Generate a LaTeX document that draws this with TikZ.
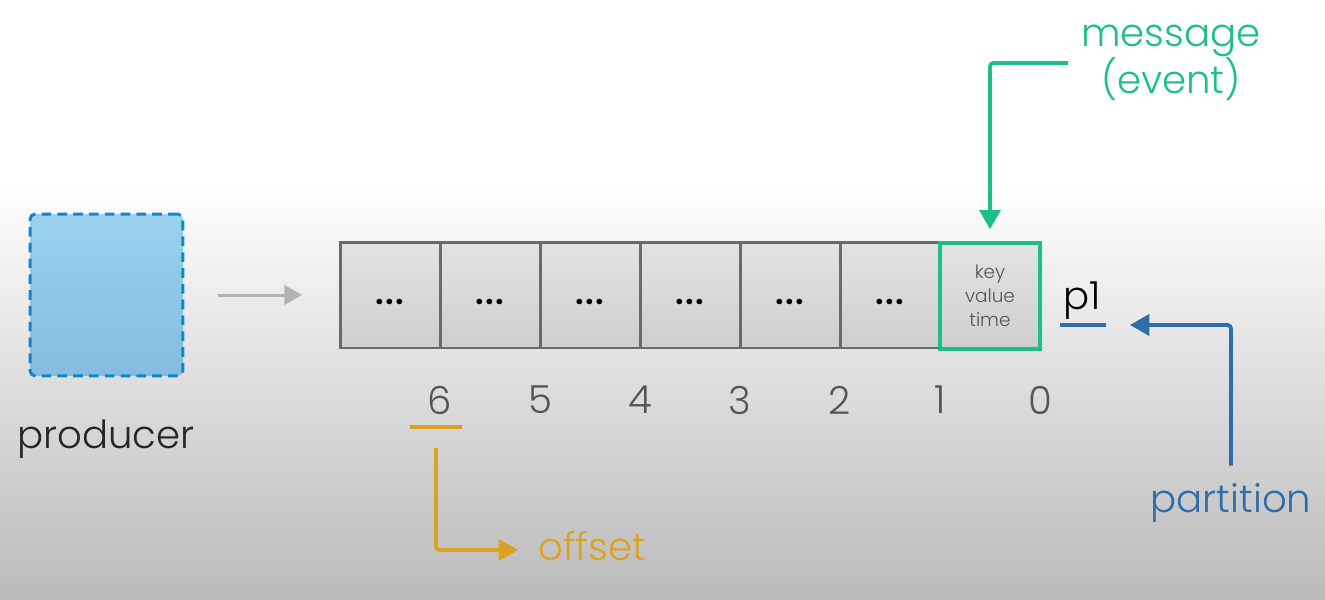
\documentclass[tikz,border=0pt]{standalone}
\usepackage{fontspec}
\setmainfont{Poppins Light}
\usetikzlibrary{arrows.meta,positioning}
\definecolor{msggreen}{HTML}{1DBE89}
\definecolor{partblue}{HTML}{2C6DAA}
\definecolor{offorange}{HTML}{DDA122}
\definecolor{prodblue}{HTML}{0E89C6}
\definecolor{prodtop}{HTML}{99D1EE}
\definecolor{prodbot}{HTML}{84BCE0}
\definecolor{cellgray}{HTML}{6A6A6A}
\definecolor{numgray}{HTML}{555555}
\tikzset{
  cell/.style={draw=cellgray, line width=1.7pt, top color=black!11, bottom color=black!19,
    minimum width=2cm, minimum height=2.12cm, inner sep=0pt, font=\fontsize{19}{20}\selectfont},
  idx/.style={text=numgray, inner sep=0pt, font=\fontsize{22}{26}\selectfont},
  bigtxt/.style={inner sep=0pt, font=\fontsize{22}{27}\selectfont},
  tip/.style={-{Triangle[length=11pt,width=12pt]}, line width=2.1pt, rounded corners=2pt}
}

\begin{document}
\begin{tikzpicture}[x=0.02cm, y=-0.02cm]
  %%%%% BACKGROUND %%%%%
  \useasboundingbox (0,0) rectangle (1325,599);
  \fill[white] (0,0) rectangle (1325,182);
  \shade[top color=white, bottom color=black!27] (0,180) rectangle (1325,599);

  %%%%% PRODUCER %%%%%
  \node[draw=prodblue, line width=1.7pt, dash pattern=on 5.5pt off 3.5pt, rounded corners=3pt,
    top color=prodtop, bottom color=prodbot, minimum width=3.06cm, minimum height=3.24cm]
    (prod) at (106.5,295) {};
  \node[bigtxt, anchor=base, text=black!85] (prodlbl) at (106,448) {producer};

  %%%%% LOG %%%%%
  \foreach \i in {1,...,7}{
    \node[cell] (cell\i) at (290+100*\i,295) {\raisebox{-10.5pt}{\textbf{.\kern0.8pt.\kern0.8pt.}}};
    \pgfmathtruncatemacro\n{7-\i}
    \node[idx] (num\n) at (340+100*\i,400) {\n};
  }
  \node[cell, draw=msggreen, line width=2pt, align=center, text=numgray,
    font=\fontsize{10.5}{13.6}\selectfont] (msgcell) at (990,296) {key\\value\\time};

  \draw[-{Triangle[length=10pt,width=11pt]}, line width=1.7pt, black!30] (218,295) -- (302,295);

  %%%%% MESSAGE %%%%%
  \node[bigtxt, align=center, text=msggreen] (msg) at (1171,63) {message\\(event)};
  \draw[tip, msggreen, shorten <=0.26cm, shorten >=0.24cm] (msg.west) -| (msgcell.north);

  %%%%% PARTITION %%%%%
  \node[bigtxt, anchor=base] (p1) at (1082,309) {p1};
  \coordinate (p1a) at (1060,325);
  \coordinate (p1b) at (1106,325);
  \draw[line width=2.1pt, partblue] (p1a) -- (p1b);
  \node[bigtxt, anchor=base, text=partblue] (part) at (1231,512) {partition};
  \coordinate (parttip) at (1130,325);
  \draw[tip, partblue] ([yshift=0.34cm]part.north) |- (parttip);

  %%%%% OFFSET %%%%%
  \coordinate (ul6a) at (410,427);
  \coordinate (ul6b) at (462,427);
  \draw[line width=2.1pt, offorange] (ul6a) -- (ul6b);
  \coordinate (offstart) at (436,448);
  \coordinate (offtip) at (518,550);
  \node[bigtxt, anchor=base west, text=offorange] (offset) at (538,560) {offset};
  \draw[tip, offorange] (offstart) |- (offtip);
\end{tikzpicture}
\end{document}
